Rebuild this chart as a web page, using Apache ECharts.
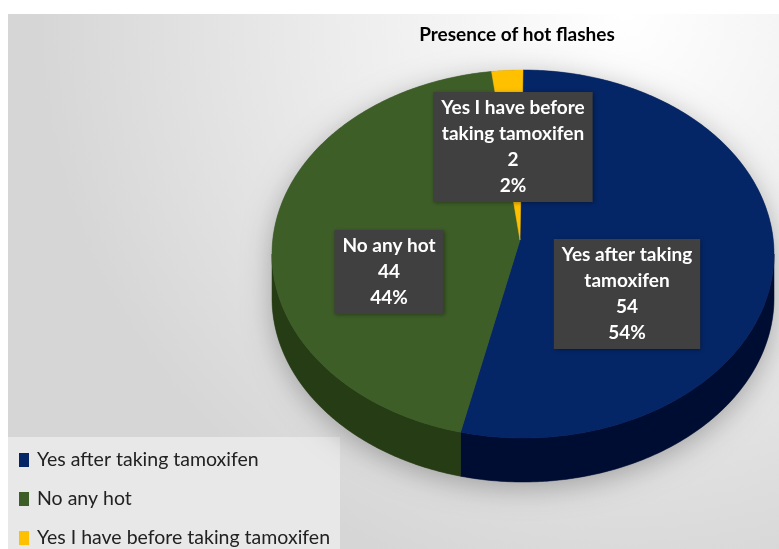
<!DOCTYPE html>
<html>
<head>
<meta charset="utf-8">
<script src="https://cdn.jsdelivr.net/npm/echarts@6/dist/echarts.min.js"></script>
<style>html,body{margin:0;padding:0;background:#fff}#c{width:779px;height:549px}</style>
</head>
<body>
<div id="c"></div>
<script>
// ---- data ----
const categories = ['Yes after taking tamoxifen', 'No any hot', 'Yes I have before taking tamoxifen'];
const counts = [54, 44, 2];
const labelNames = ['Yes after taking\ntamoxifen', 'No any hot', 'Yes I have before\ntaking tamoxifen'];
const titleText = 'Presence of hot flashes';

// ---- styles / layout ----
const colors = ['#042566', '#3e5e28', '#ffc000'];
const sideColors = ['#000d33', '#263c15', '#b38600'];
const geo = { cx: 523, cy: 254, rx: 251, ry: 184, depth: 44, apexDx: -3, apexDy: -14 };
const labelCenters = [[627, 294], [389, 272], [513, 147]];
const FONT = 'Lato, "Open Sans", sans-serif';

const total = counts.reduce((a, b) => a + b, 0);
function rim(t, dy) {
  return [geo.cx + geo.rx * Math.sin(t), geo.cy - geo.ry * Math.cos(t) + (dy || 0)];
}
function arcPts(a0, a1, dy) {
  const n = Math.max(2, Math.ceil((a1 - a0) / 0.01));
  const pts = [];
  for (let k = 0; k <= n; k++) pts.push(rim(a0 + (a1 - a0) * k / n, dy));
  return pts;
}

function makeRender(i) {
  return function (params, api) {
    const v = api.value(0);
    let before = 0;
    for (let j = 0; j < i; j++) before += counts[j];
    const a0 = before / total * Math.PI * 2;
    const a1 = (before + v) / total * Math.PI * 2;
    const children = [];
    if (i === 0) {
      const sil = arcPts(-Math.PI / 2, Math.PI / 2, 0).concat(arcPts(Math.PI / 2, 3 * Math.PI / 2, geo.depth));
      children.push({ type: 'polygon', shape: { points: sil }, z2: 0,
        style: { fill: '#777', shadowBlur: 28, shadowColor: 'rgba(0,0,0,0.28)', shadowOffsetY: 6 } });
    }
    const s0 = Math.max(a0, Math.PI / 2), s1 = Math.min(a1, 3 * Math.PI / 2);
    if (s1 > s0) {
      const top = arcPts(s0, s1, 0);
      const bot = arcPts(s0, s1, geo.depth).reverse();
      children.push({ type: 'polygon', shape: { points: top.concat(bot) }, z2: 1,
        style: { fill: sideColors[i], stroke: sideColors[i], lineWidth: 0.5 } });
    }
    const apex = [geo.cx + geo.apexDx, geo.cy + geo.apexDy];
    const face = [apex].concat(arcPts(a0, a1, 0));
    children.push({ type: 'polygon', shape: { points: face }, z2: 2,
      style: { fill: colors[i], stroke: colors[i], lineWidth: 0.5 } });
    const pct = Math.round(v / total * 100);
    children.push({ type: 'text', x: labelCenters[i][0], y: labelCenters[i][1], z2: 100,
      style: { text: labelNames[i] + '\n' + v + '\n' + pct + '%', fill: '#fff',
        font: 'bold 19px ' + FONT, align: 'center', verticalAlign: 'middle',
        lineHeight: 26, backgroundColor: '#404040', padding: [3, 8],
        shadowBlur: 4, shadowColor: 'rgba(0,0,0,0.35)', shadowOffsetX: 1, shadowOffsetY: 1 } });
    return { type: 'group', children: children };
  };
}

const chart = echarts.init(document.getElementById('c'), null, { renderer: 'canvas' });
chart.setOption({
  animation: false,
  backgroundColor: '#ffffff',
  color: colors,
  title: {
    text: titleText, left: 512, top: 20, textAlign: 'center',
    textStyle: { fontFamily: FONT, fontWeight: 'bold', fontSize: 19, color: '#000' }
  },
  graphic: [
    { type: 'rect', z: -10, shape: { x: 8, y: 14, width: 771, height: 535 },
      style: { fill: new echarts.graphic.RadialGradient(0.8, 0.0, 1.1, [
        { offset: 0, color: '#ffffff' }, { offset: 0.5, color: '#ececec' }, { offset: 1, color: '#d6d6d6' }]) } },
    { type: 'rect', z: -9, shape: { x: 8, y: 437, width: 332, height: 112 },
      style: { fill: '#e8e8e8' } }
  ],
  legend: {
    data: categories, orient: 'vertical', left: 19, top: 450, padding: 0,
    itemWidth: 10, itemHeight: 14, itemGap: 19, icon: 'rect',
    textStyle: { fontFamily: FONT, fontSize: 19.5, color: '#222', lineHeight: 20, padding: [0, 0, 0, 3] }
  },
  series: categories.map((name, i) => ({
    name: name, type: 'custom', coordinateSystem: 'none',
    itemStyle: { color: colors[i] },
    renderItem: makeRender(i),
    data: [[counts[i]]]
  }))
});
</script>
</body>
</html>
